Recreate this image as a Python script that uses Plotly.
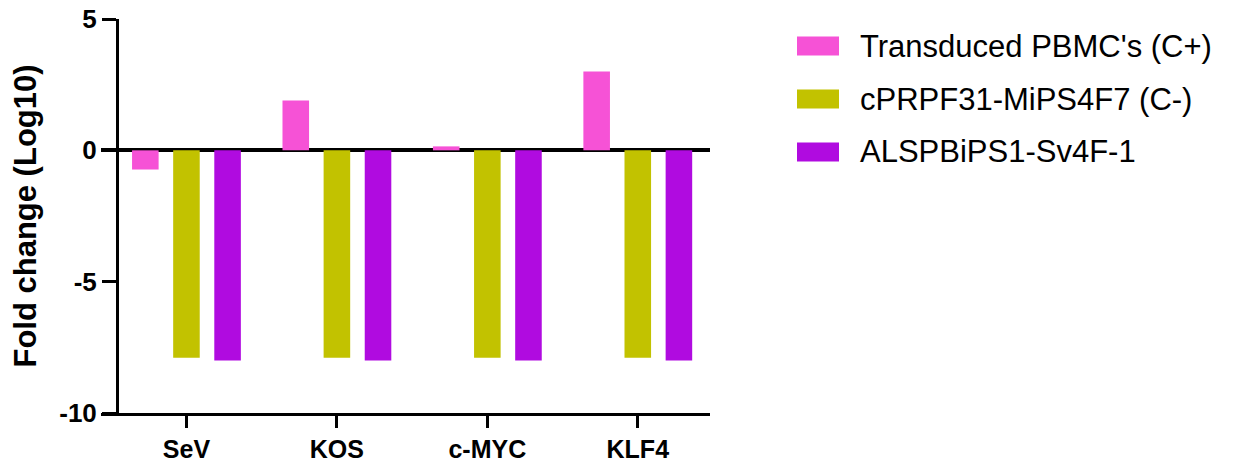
import plotly.graph_objects as go

categories = ["SeV", "KOS", "c-MYC", "KLF4"]
series_names = ["Transduced PBMC's (C+)", "cPRPF31-MiPS4F7 (C-)", "ALSPBiPS1-Sv4F-1"]
pbmc = [-0.73, 1.9, 0.15, 3.0]
cprpf = [-7.9, -7.9, -7.9, -7.9]
alsp = [-8.0, -8.0, -8.0, -8.0]
y_ticks = [-10, -5, 0, 5]

colors = ["#F652D6", "#C2C200", "#B00BE0"]
series_values = [pbmc, cprpf, alsp]

W, H = 1243, 463
L, R = 101, 710
T, B = 19, 413

fig = go.Figure()
for name, vals, col in zip(series_names, series_values, colors):
    fig.add_trace(go.Bar(x=categories, y=vals, name=name,
                         marker=dict(color=col, line=dict(width=0)),
                         showlegend=False))

font_family = "Liberation Sans, Arial, sans-serif"

fig.update_layout(
    width=W, height=H,
    margin=dict(l=L, r=W - R, t=T, b=H - B, autoexpand=False),
    paper_bgcolor="white", plot_bgcolor="white",
    barmode="group", bargap=0.18, bargroupgap=0.354,
    font=dict(family=font_family, color="black"),
)

fig.update_xaxes(
    range=[-0.568, 3.48], showline=True, linewidth=3, linecolor="black",
    ticks="outside", ticklen=12, tickwidth=3, tickcolor="black",
    tickfont=dict(size=25, weight="bold", family=font_family),
    showgrid=False, zeroline=False,
)

pos = (117 - L) / (R - L)
fig.update_yaxes(
    range=[-10, 5], tickvals=y_ticks, ticktext=[str(v) for v in y_ticks],
    anchor="free", position=pos,
    showline=True, linewidth=3, linecolor="black",
    ticks="outside", ticklen=14, tickwidth=3, tickcolor="black",
    tickfont=dict(size=26, weight="bold", family=font_family),
    showgrid=False, zeroline=True, zerolinewidth=3.5, zerolinecolor="black",
    title=dict(text="Fold change (Log10)", standoff=12,
               font=dict(size=31, weight="bold", family=font_family)),
)

# custom legend
def px_x(p):
    return (p - L) / (R - L)

def px_y(p):
    return (B - p) / (B - T)

row_y = [46, 99, 152]
for name, col, ry in zip(series_names, colors, row_y):
    fig.add_shape(type="rect", xref="paper", yref="paper",
                  x0=px_x(797), x1=px_x(839), y0=px_y(ry + 9.5), y1=px_y(ry - 9.5),
                  fillcolor=col, line=dict(width=0))
    fig.add_annotation(xref="paper", yref="paper", x=px_x(858), y=px_y(ry),
                       text=name, showarrow=False, xanchor="left", yanchor="middle",
                       font=dict(size=31, family=font_family, color="black"))

fig.write_html("out.html", config={"displayModeBar": False},
               post_script="document.body.style.margin='0';")
